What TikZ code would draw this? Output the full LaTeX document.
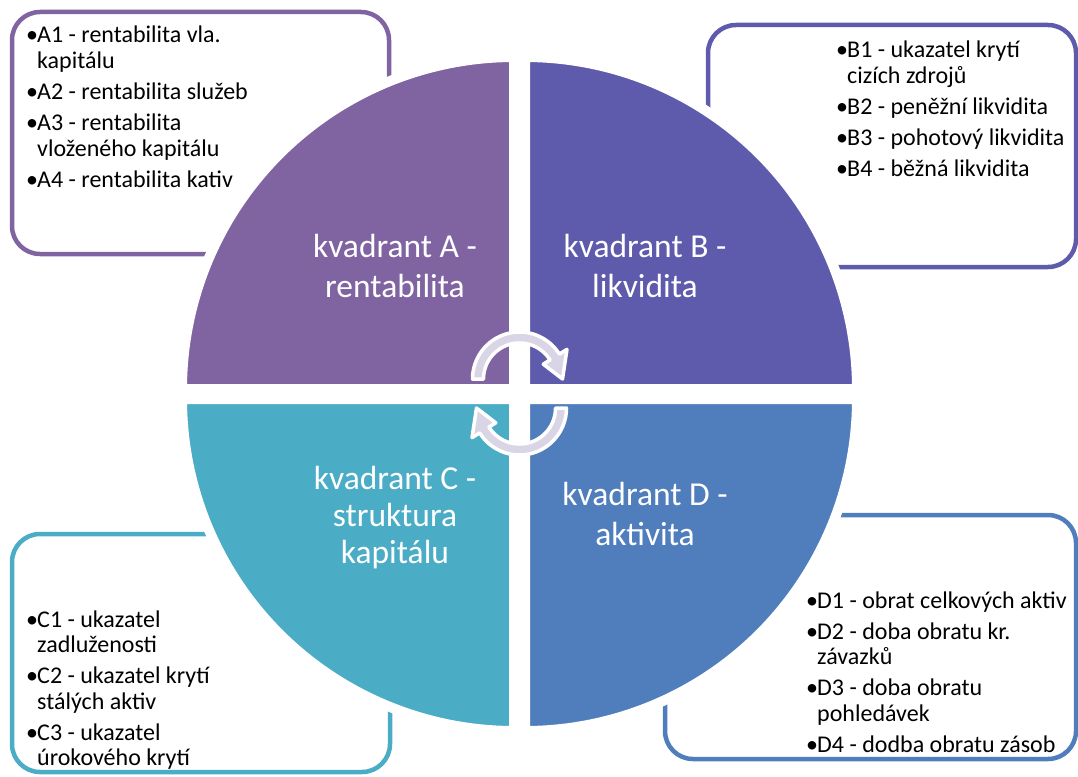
\documentclass[tikz,border=0pt]{standalone}
\usepackage{fontspec}
\setmainfont{Carlito}

\definecolor{qa}{RGB}{128,100,162}
\definecolor{qb}{RGB}{95,91,172}
\definecolor{qc}{RGB}{75,172,198}
\definecolor{qd}{RGB}{80,126,189}
\definecolor{arrowgray}{RGB}{217,213,230}

% one bullet item with hanging indent
\newcommand\bitem[1]{\par\hangindent=11pt\hangafter=1\noindent\makebox[11pt][l]{•}#1}
% a bullet list set in a top-aligned box
\newcommand\blist[1]{\parbox[t]{420pt}{\fontsize{24}{25.5}\selectfont\setlength\parskip{5.5pt}\raggedright#1}}
% a centred quadrant caption
\newcommand\qlabel[2]{{\fontsize{33.5}{#1}\selectfont\begin{tabular}[t]{@{}c@{}}#2\end{tabular}}}

\tikzset{
  infobox/.style={line width=4.5pt, rounded corners=28pt},
  quadrant/.style={draw=white, line width=10pt, line join=miter},
  listtext/.style={inner sep=0pt, anchor=base west, text=black},
  qtext/.style={inner sep=0pt, anchor=base, text=white},
  cyclearrow/.style={fill=arrowgray, draw=white, line width=3.5pt, line join=round}
}

\begin{document}
\begin{tikzpicture}[x=1pt,y=-1pt]
\useasboundingbox (0,0) rectangle (1078,776);

% rounded information boxes behind the circle
\draw[infobox, qa] (12,12) rectangle (389,254);
\draw[infobox, qb] (708,25) rectangle (1076,267);
\draw[infobox, qc] (12,534) rectangle (390,772);
\draw[infobox, qd] (665,515) rectangle (1076,759);

% four quarter discs with a white rim
\filldraw[quadrant, fill=qa] (514,389) -- plot[domain=180:270, samples=90] ({514+332*cos(\x)},{389+332*sin(\x)}) -- cycle;
\filldraw[quadrant, fill=qb] (525,389) -- plot[domain=270:360, samples=90] ({525+332*cos(\x)},{389+332*sin(\x)}) -- cycle;
\filldraw[quadrant, fill=qc] (514,399) -- plot[domain=90:180, samples=90] ({514+332*cos(\x)},{399+332*sin(\x)}) -- cycle;
\filldraw[quadrant, fill=qd] (525,399) -- plot[domain=0:90, samples=90] ({525+332*cos(\x)},{399+332*sin(\x)}) -- cycle;

% circular arrows in the centre
\filldraw[cyclearrow] ({519.5+47*cos(180)},{379+47*sin(180)})
  -- plot[domain=180:328, samples=60] ({519.5+47*cos(\x)},{379+47*sin(\x)})
  -- ({519.5+56*cos(328)},{379+56*sin(328)})
  -- ({519.5+43*cos(360)},{379+43*sin(360)})
  -- ({519.5+28*cos(328)},{379+28*sin(328)})
  -- plot[domain=328:180, samples=60] ({519.5+36*cos(\x)},{379+36*sin(\x)})
  -- cycle;
\filldraw[cyclearrow] ({519.5+47*cos(360)},{408+47*sin(360)})
  -- plot[domain=360:508, samples=60] ({519.5+47*cos(\x)},{408+47*sin(\x)})
  -- ({519.5+56*cos(508)},{408+56*sin(508)})
  -- ({519.5+43*cos(540)},{408+43*sin(540)})
  -- ({519.5+28*cos(508)},{408+28*sin(508)})
  -- plot[domain=508:360, samples=60] ({519.5+36*cos(\x)},{408+36*sin(\x)})
  -- cycle;

% quadrant captions
\node[qtext] (capA) at (395,257) {\qlabel{40}{kvadrant A -\\rentabilita}};
\node[qtext] (capB) at (645,257) {\qlabel{40}{kvadrant B -\\likvidita}};
\node[qtext] (capC) at (395,489) {\qlabel{37}{kvadrant C -\\struktura\\kapitálu}};
\node[qtext] (capD) at (645,505) {\qlabel{40}{kvadrant D -\\aktivita}};

% indicator lists
\node[listtext] (listA) at (26,43) {\blist{%
  \bitem{A1 - rentabilita vla.\newline kapitálu}
  \bitem{A2 - rentabilita služeb}
  \bitem{A3 - rentabilita\newline vloženého kapitálu}
  \bitem{A4 - rentabilita kativ}}};
\node[listtext] (listB) at (836,58) {\blist{%
  \bitem{B1 - ukazatel krytí\newline cizích zdrojů}
  \bitem{B2 - peněžní likvidita}
  \bitem{B3 - pohotový likvidita}
  \bitem{B4 - běžná likvidita}}};
\node[listtext] (listC) at (26,627) {\blist{%
  \bitem{C1 - ukazatel\newline zadluženosti}
  \bitem{C2 - ukazatel krytí\newline stálých aktiv}
  \bitem{C3 - ukazatel\newline úrokového krytí}}};
\node[listtext] (listD) at (806,608) {\blist{%
  \bitem{D1 - obrat celkových aktiv}
  \bitem{D2 - doba obratu kr.\newline závazků}
  \bitem{D3 - doba obratu\newline pohledávek}
  \bitem{D4 - dodba obratu zásob}}};
\end{tikzpicture}
\end{document}
